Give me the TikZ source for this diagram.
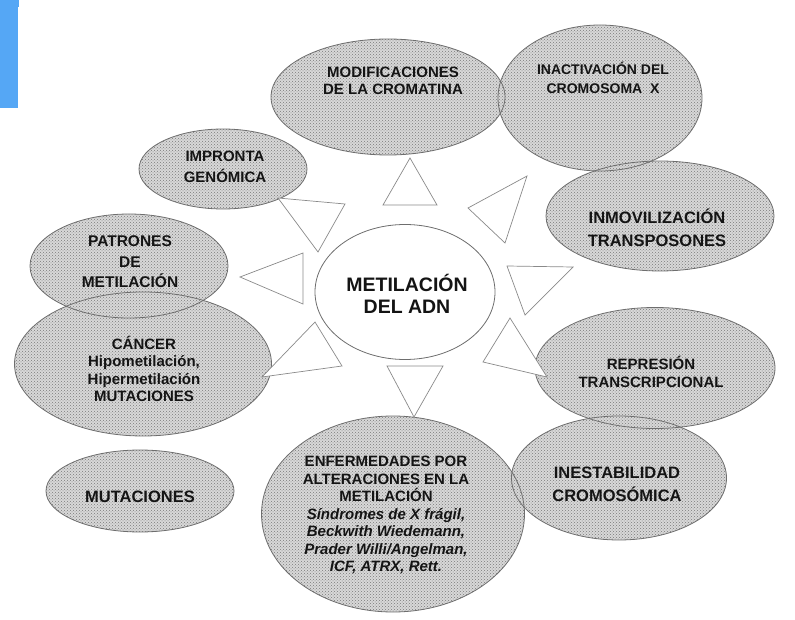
\documentclass[tikz,border=0pt]{standalone}
\usepackage{fontspec}
\setmainfont{Liberation Sans}
\usetikzlibrary{shapes.geometric,patterns,calc}
\definecolor{barblue}{HTML}{55A7F5}
\definecolor{rimgray}{HTML}{6E6E6E}
\definecolor{blobgray}{HTML}{D8D8D8}
\definecolor{dotgray}{HTML}{7A7A7A}
\definecolor{trigray}{HTML}{8A8A8A}
\begin{document}
\begin{tikzpicture}[x=1pt,y=-1pt,
  blob/.style={ellipse, draw=none, inner sep=0pt, outer sep=0pt, fill=blobgray,
    postaction={pattern=crosshatch dots, pattern color=dotgray}},
  rim/.style={draw=rimgray, line width=0.8pt},
  core/.style={ellipse, draw=rimgray, fill=white, line width=0.8pt, inner sep=0pt, outer sep=0pt},
  arrowtri/.style={draw=trigray, fill=white, line width=0.7pt, line join=miter},
  lbl/.style={align=center, inner sep=0pt, text=black!92,
    font=\bfseries\fontsize{15}{17.5}\selectfont},
  lblmid/.style={lbl, font=\bfseries\fontsize{16.5}{23}\selectfont},
  lblsmall/.style={lbl, font=\bfseries\fontsize{14}{19}\selectfont},
  lblbig/.style={lbl, font=\bfseries\fontsize{19.5}{22}\selectfont}]
\useasboundingbox (0,0) rectangle (795,620);
% blue bar
\fill[barblue] (0,0) rectangle (18,108);
\fill[barblue] (0,0) rectangle (19,7);
% outer ellipses (fills)
\node[blob, minimum width=234pt, minimum height=116pt] (mod) at (388,97) {};
\node[blob, minimum width=204pt, minimum height=146pt] (inact) at (600,98) {};
\node[blob, minimum width=228pt, minimum height=110pt] (inmov) at (660,216) {};
\node[blob, minimum width=240pt, minimum height=121pt] (repr) at (655,368) {};
\node[blob, minimum width=215pt, minimum height=124pt] (inest) at (619,478) {};
\node[blob, minimum width=263pt, minimum height=196pt] (enf) at (393,514) {};
\node[blob, minimum width=188pt, minimum height=82pt] (mut) at (140,491) {};
\node[blob, minimum width=257pt, minimum height=144pt] (canc) at (143,364) {};
\node[blob, minimum width=198pt, minimum height=104pt] (patr) at (129,266) {};
\node[blob, minimum width=168pt, minimum height=80pt] (impr) at (223,169) {};
% outlines
\foreach \q in {mod,inact,inmov,repr,inest,enf,mut,canc,patr,impr}
  \draw[rim] let \p1=(\q.east), \p2=(\q.north), \p3=(\q.center) in
    (\p3) ellipse [x radius={abs(\x1-\x3)}, y radius={abs(\y2-\y3)}];
% centre
\node[core, minimum width=180pt, minimum height=135pt] (adn) at (405,292) {};
% triangles
\draw[arrowtri] (383,205) -- (437,205) -- (410,158) -- cycle;
\draw[arrowtri] (468,208) -- (527,176) -- (505,243) -- cycle;
\draw[arrowtri] (507,266) -- (573,267) -- (525,315) -- cycle;
\draw[arrowtri] (510,318) -- (483,362) -- (547,377) -- cycle;
\draw[arrowtri] (387,366) -- (443,366) -- (414,417) -- cycle;
\draw[arrowtri] (315,322) -- (342,366) -- (262,377) -- cycle;
\draw[arrowtri] (240,277) -- (303,253) -- (303,304) -- cycle;
\draw[arrowtri] (278,198) -- (345,204) -- (318,252) -- cycle;
% labels
\node[lbl] (modt) at (393,81) {MODIFICACIONES\\DE LA CROMATINA};
\node[lblsmall] (inactt) at (603,78) {INACTIVACIÓN DEL\\CROMOSOMA\ \ X};
\node[lblmid] (inmovt) at (657,228) {INMOVILIZACIÓN\\TRANSPOSONES};
\node[lbl] (reprt) at (651,372) {REPRESIÓN\\TRANSCRIPCIONAL};
\node[lblmid] (inestt) at (617,484) {INESTABILIDAD\\CROMOSÓMICA};
\node[lbl] (enft) at (386,515) {ENFERMEDADES POR\\ALTERACIONES EN LA\\METILACIÓN\\
  \itshape Síndromes de X frágil,\\\itshape Beckwith Wiedemann,\\\itshape Prader Willi/Angelman,\\\itshape ICF, ATRX, Rett.};
\node[lblmid] (mutt) at (140,497) {MUTACIONES};
\node[lbl] (canct) at (144,369) {CÁNCER\\Hipometilación,\\Hipermetilación\\MUTACIONES};
\node[lbl, font=\bfseries\fontsize{15.5}{20.5}\selectfont] (patrt) at (130,262) {PATRONES\\DE\\METILACIÓN};
\node[lbl, font=\bfseries\fontsize{15}{21}\selectfont] (imprt) at (225,167) {IMPRONTA\\GENÓMICA};
\node[lblbig] (adnt) at (407,294) {METILACIÓN\\DEL ADN};
\end{tikzpicture}
\end{document}
